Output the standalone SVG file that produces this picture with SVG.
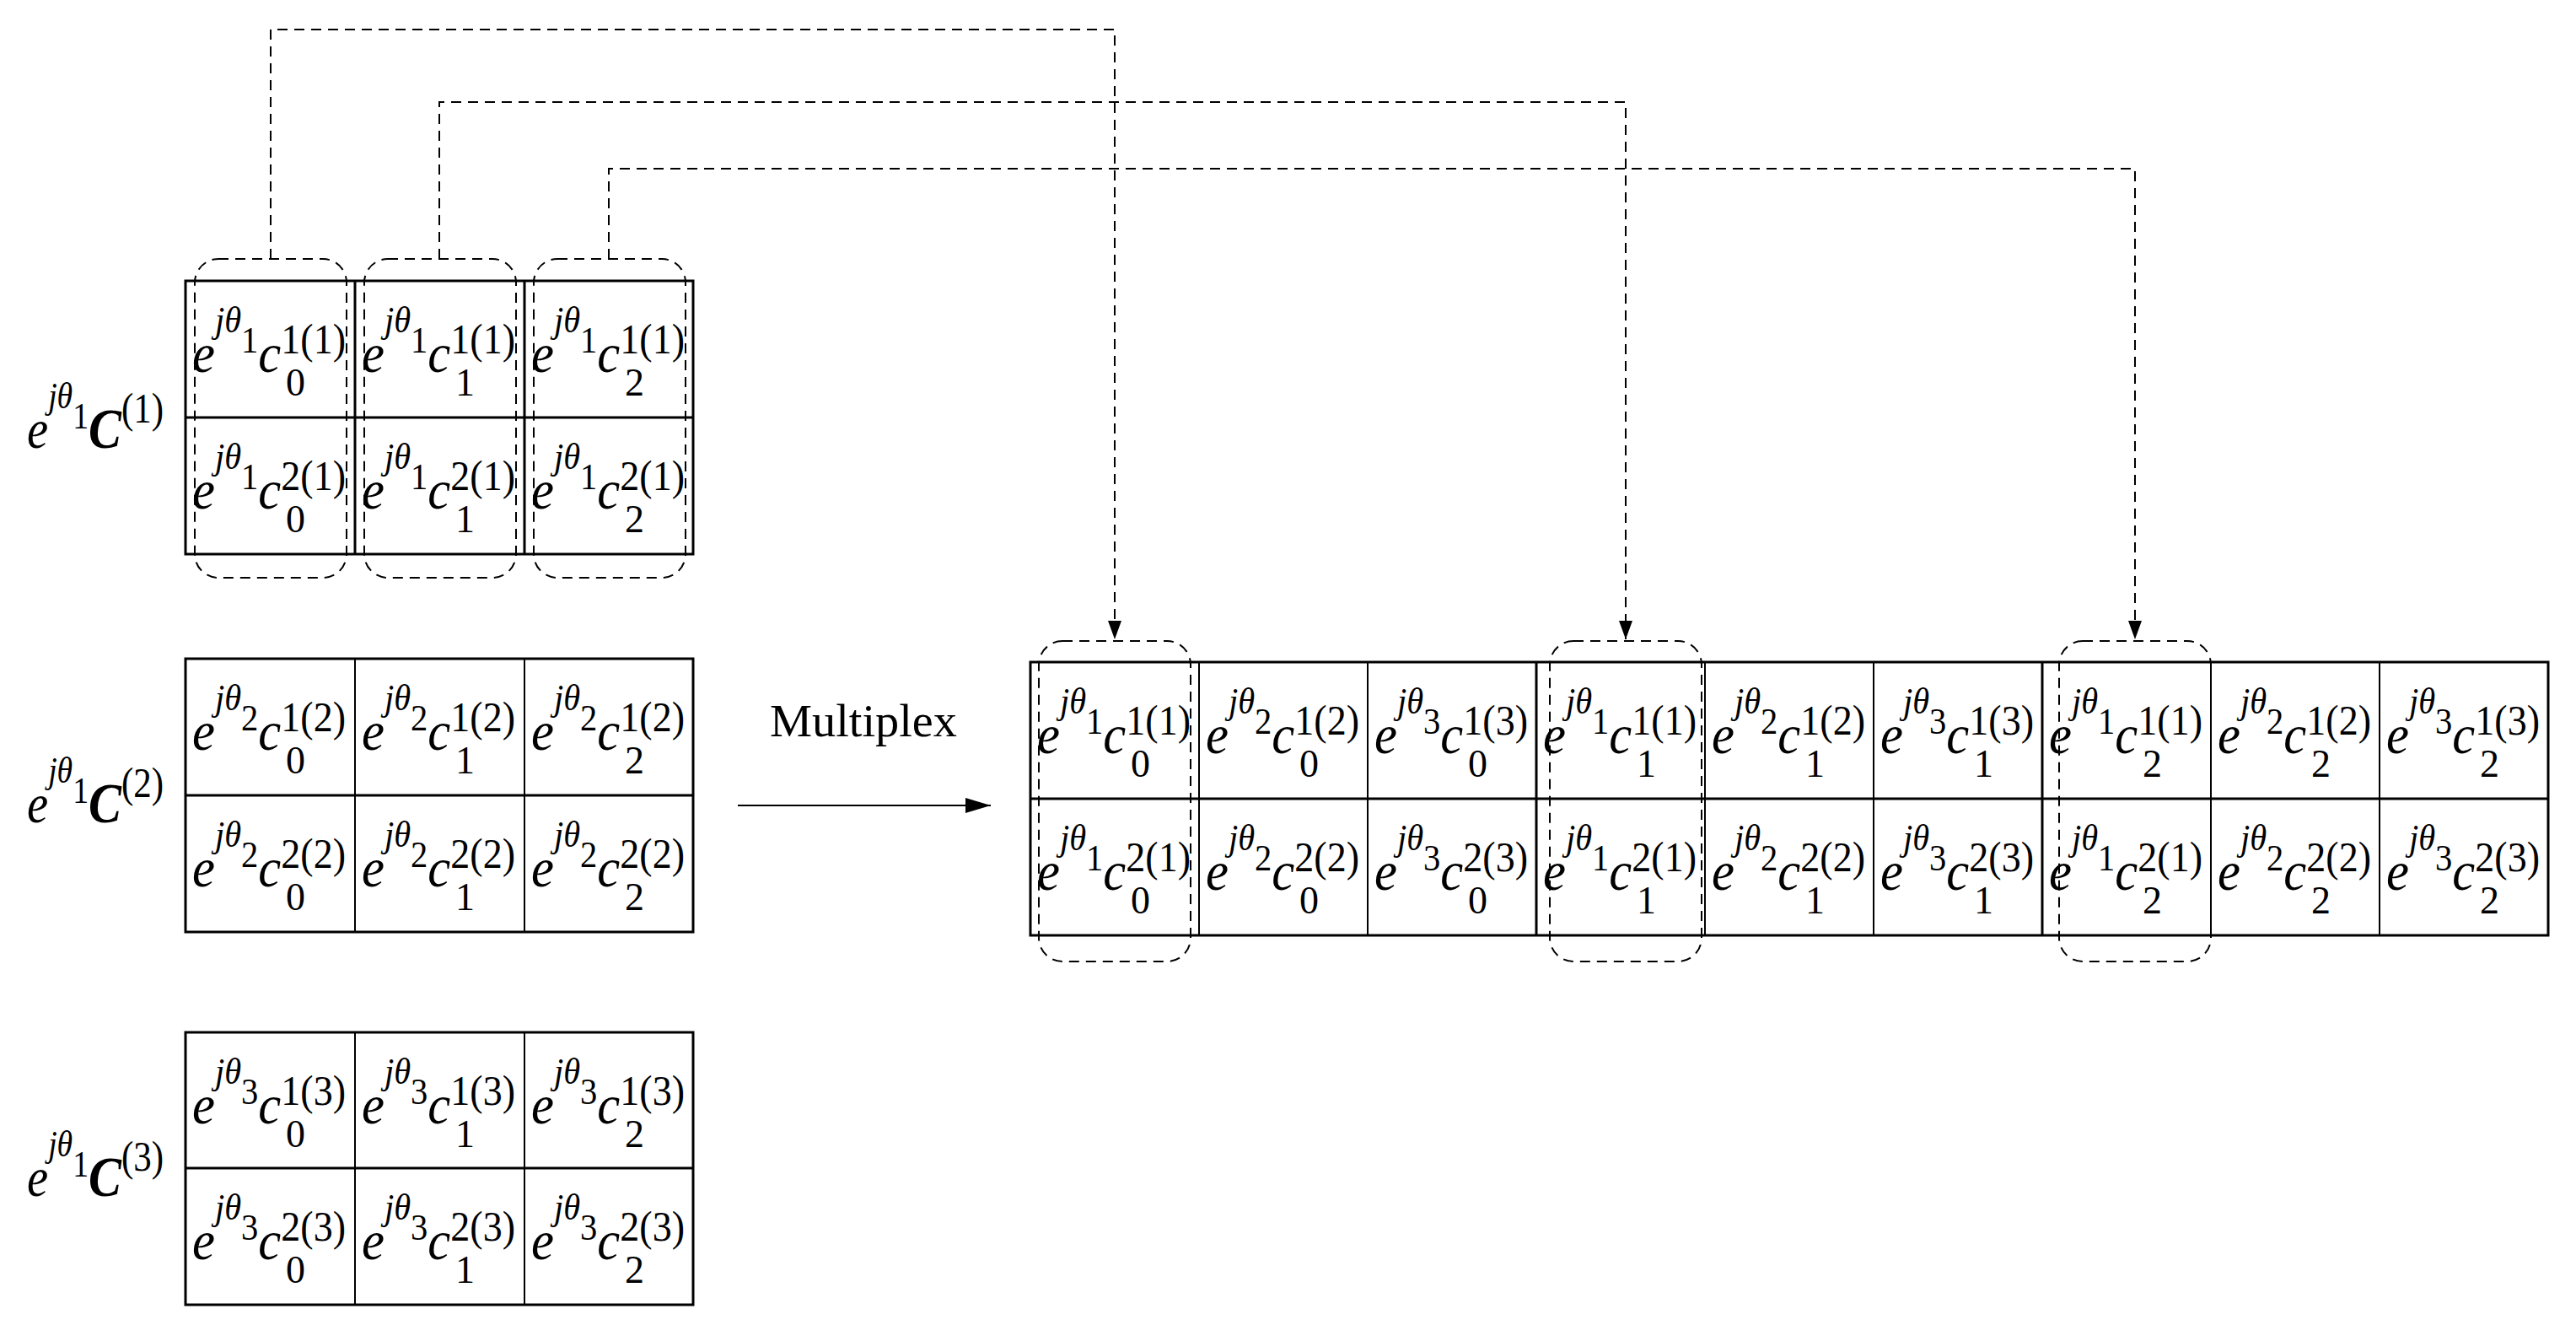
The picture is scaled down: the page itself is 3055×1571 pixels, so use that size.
<svg xmlns="http://www.w3.org/2000/svg" width="3055" height="1571" viewBox="0 0 3055 1571">
<style>
.m{font-family:"Liberation Serif",serif;font-style:italic;font-size:66px;fill:#000}
.s{font-size:44px}
.n{font-style:normal;font-size:44px}
.p{font-style:normal;font-size:50px}
.b{font-family:"Liberation Serif",serif;font-size:46px;fill:#000}
.C{font-weight:bold;font-size:68px}
.g{fill:none;stroke:#000;stroke-width:3}
.d{fill:none;stroke:#000;stroke-width:2}
.dash{fill:none;stroke:#000;stroke-width:2;stroke-dasharray:12 8}
.t{font-family:"Liberation Serif",serif;font-size:55px;fill:#000}
</style>
<defs>
<marker id="ah" viewBox="0 0 22 16" refX="22" refY="8" markerWidth="22" markerHeight="16" markerUnits="userSpaceOnUse" orient="auto"><path d="M0,0 L22,8 L0,16 Z" fill="#000"/></marker>
<marker id="ar" viewBox="0 0 30 18" refX="30" refY="9" markerWidth="30" markerHeight="18" markerUnits="userSpaceOnUse" orient="auto"><path d="M0,0 L30,9 L0,18 Z" fill="#000"/></marker>
</defs>

<g id="labels">
<text class="m" x="32" y="531" textLength="162" lengthAdjust="spacingAndGlyphs">e<tspan class="s" dy="-47">jθ</tspan><tspan class="n" dy="24">1</tspan><tspan class="C" dy="23">C</tspan><tspan class="p" dy="-30">(1)</tspan></text>
<text class="m" x="32" y="975" textLength="162" lengthAdjust="spacingAndGlyphs">e<tspan class="s" dy="-47">jθ</tspan><tspan class="n" dy="24">1</tspan><tspan class="C" dy="23">C</tspan><tspan class="p" dy="-30">(2)</tspan></text>
<text class="m" x="32" y="1418" textLength="162" lengthAdjust="spacingAndGlyphs">e<tspan class="s" dy="-47">jθ</tspan><tspan class="n" dy="24">1</tspan><tspan class="C" dy="23">C</tspan><tspan class="p" dy="-30">(3)</tspan></text>
</g>

<g id="matrix1">
<rect class="g" x="220" y="333" width="602" height="324"/>
<line class="g" x1="220" y1="495" x2="822" y2="495"/>
<line class="g" x1="421" y1="333" x2="421" y2="657"/>
<line class="g" x1="622" y1="333" x2="622" y2="657"/>
<text class="m" x="228" y="441" textLength="182" lengthAdjust="spacingAndGlyphs">e<tspan class="s" dy="-47">jθ</tspan><tspan class="n" dy="24">1</tspan><tspan dy="23">c</tspan><tspan class="p" dy="-22">1(1)</tspan></text><text class="b" x="339" y="469">0</text>
<text class="m" x="429" y="441" textLength="182" lengthAdjust="spacingAndGlyphs">e<tspan class="s" dy="-47">jθ</tspan><tspan class="n" dy="24">1</tspan><tspan dy="23">c</tspan><tspan class="p" dy="-22">1(1)</tspan></text><text class="b" x="540" y="469">1</text>
<text class="m" x="630" y="441" textLength="182" lengthAdjust="spacingAndGlyphs">e<tspan class="s" dy="-47">jθ</tspan><tspan class="n" dy="24">1</tspan><tspan dy="23">c</tspan><tspan class="p" dy="-22">1(1)</tspan></text><text class="b" x="741" y="469">2</text>
<text class="m" x="228" y="603" textLength="182" lengthAdjust="spacingAndGlyphs">e<tspan class="s" dy="-47">jθ</tspan><tspan class="n" dy="24">1</tspan><tspan dy="23">c</tspan><tspan class="p" dy="-22">2(1)</tspan></text><text class="b" x="339" y="631">0</text>
<text class="m" x="429" y="603" textLength="182" lengthAdjust="spacingAndGlyphs">e<tspan class="s" dy="-47">jθ</tspan><tspan class="n" dy="24">1</tspan><tspan dy="23">c</tspan><tspan class="p" dy="-22">2(1)</tspan></text><text class="b" x="540" y="631">1</text>
<text class="m" x="630" y="603" textLength="182" lengthAdjust="spacingAndGlyphs">e<tspan class="s" dy="-47">jθ</tspan><tspan class="n" dy="24">1</tspan><tspan dy="23">c</tspan><tspan class="p" dy="-22">2(1)</tspan></text><text class="b" x="741" y="631">2</text>
<rect class="dash" x="231" y="307" width="180" height="378" rx="28"/>
<rect class="dash" x="432" y="307" width="180" height="378" rx="28"/>
<rect class="dash" x="633" y="307" width="180" height="378" rx="28"/>
</g>

<g id="matrix2">
<rect class="g" x="220" y="781" width="602" height="324"/>
<line class="g" x1="220" y1="943" x2="822" y2="943"/>
<line class="d" x1="421" y1="781" x2="421" y2="1105"/>
<line class="d" x1="622" y1="781" x2="622" y2="1105"/>
<text class="m" x="228" y="889" textLength="182" lengthAdjust="spacingAndGlyphs">e<tspan class="s" dy="-47">jθ</tspan><tspan class="n" dy="24">2</tspan><tspan dy="23">c</tspan><tspan class="p" dy="-22">1(2)</tspan></text><text class="b" x="339" y="917">0</text>
<text class="m" x="429" y="889" textLength="182" lengthAdjust="spacingAndGlyphs">e<tspan class="s" dy="-47">jθ</tspan><tspan class="n" dy="24">2</tspan><tspan dy="23">c</tspan><tspan class="p" dy="-22">1(2)</tspan></text><text class="b" x="540" y="917">1</text>
<text class="m" x="630" y="889" textLength="182" lengthAdjust="spacingAndGlyphs">e<tspan class="s" dy="-47">jθ</tspan><tspan class="n" dy="24">2</tspan><tspan dy="23">c</tspan><tspan class="p" dy="-22">1(2)</tspan></text><text class="b" x="741" y="917">2</text>
<text class="m" x="228" y="1051" textLength="182" lengthAdjust="spacingAndGlyphs">e<tspan class="s" dy="-47">jθ</tspan><tspan class="n" dy="24">2</tspan><tspan dy="23">c</tspan><tspan class="p" dy="-22">2(2)</tspan></text><text class="b" x="339" y="1079">0</text>
<text class="m" x="429" y="1051" textLength="182" lengthAdjust="spacingAndGlyphs">e<tspan class="s" dy="-47">jθ</tspan><tspan class="n" dy="24">2</tspan><tspan dy="23">c</tspan><tspan class="p" dy="-22">2(2)</tspan></text><text class="b" x="540" y="1079">1</text>
<text class="m" x="630" y="1051" textLength="182" lengthAdjust="spacingAndGlyphs">e<tspan class="s" dy="-47">jθ</tspan><tspan class="n" dy="24">2</tspan><tspan dy="23">c</tspan><tspan class="p" dy="-22">2(2)</tspan></text><text class="b" x="741" y="1079">2</text>
</g>

<g id="matrix3">
<rect class="g" x="220" y="1224" width="602" height="323"/>
<line class="g" x1="220" y1="1385" x2="822" y2="1385"/>
<line class="d" x1="421" y1="1224" x2="421" y2="1547"/>
<line class="d" x1="622" y1="1224" x2="622" y2="1547"/>
<text class="m" x="228" y="1332" textLength="182" lengthAdjust="spacingAndGlyphs">e<tspan class="s" dy="-47">jθ</tspan><tspan class="n" dy="24">3</tspan><tspan dy="23">c</tspan><tspan class="p" dy="-22">1(3)</tspan></text><text class="b" x="339" y="1360">0</text>
<text class="m" x="429" y="1332" textLength="182" lengthAdjust="spacingAndGlyphs">e<tspan class="s" dy="-47">jθ</tspan><tspan class="n" dy="24">3</tspan><tspan dy="23">c</tspan><tspan class="p" dy="-22">1(3)</tspan></text><text class="b" x="540" y="1360">1</text>
<text class="m" x="630" y="1332" textLength="182" lengthAdjust="spacingAndGlyphs">e<tspan class="s" dy="-47">jθ</tspan><tspan class="n" dy="24">3</tspan><tspan dy="23">c</tspan><tspan class="p" dy="-22">1(3)</tspan></text><text class="b" x="741" y="1360">2</text>
<text class="m" x="228" y="1493" textLength="182" lengthAdjust="spacingAndGlyphs">e<tspan class="s" dy="-47">jθ</tspan><tspan class="n" dy="24">3</tspan><tspan dy="23">c</tspan><tspan class="p" dy="-22">2(3)</tspan></text><text class="b" x="339" y="1521">0</text>
<text class="m" x="429" y="1493" textLength="182" lengthAdjust="spacingAndGlyphs">e<tspan class="s" dy="-47">jθ</tspan><tspan class="n" dy="24">3</tspan><tspan dy="23">c</tspan><tspan class="p" dy="-22">2(3)</tspan></text><text class="b" x="540" y="1521">1</text>
<text class="m" x="630" y="1493" textLength="182" lengthAdjust="spacingAndGlyphs">e<tspan class="s" dy="-47">jθ</tspan><tspan class="n" dy="24">3</tspan><tspan dy="23">c</tspan><tspan class="p" dy="-22">2(3)</tspan></text><text class="b" x="741" y="1521">2</text>
</g>

<g id="multiplex">
<text class="t" x="913" y="873" textLength="222" lengthAdjust="spacingAndGlyphs">Multiplex</text>
<line class="d" x1="875" y1="955" x2="1175" y2="955" marker-end="url(#ar)"/>
</g>

<g id="combined">
<rect class="g" x="1222" y="785" width="1800" height="324"/>
<line class="g" x1="1222" y1="947" x2="3022" y2="947"/>
<line class="d" x1="1422" y1="785" x2="1422" y2="1109"/>
<line class="d" x1="1622" y1="785" x2="1622" y2="1109"/>
<line class="g" x1="1822" y1="785" x2="1822" y2="1109"/>
<line class="d" x1="2022" y1="785" x2="2022" y2="1109"/>
<line class="d" x1="2222" y1="785" x2="2222" y2="1109"/>
<line class="g" x1="2422" y1="785" x2="2422" y2="1109"/>
<line class="d" x1="2622" y1="785" x2="2622" y2="1109"/>
<line class="d" x1="2822" y1="785" x2="2822" y2="1109"/>

<text class="m" x="1230" y="893" textLength="182" lengthAdjust="spacingAndGlyphs">e<tspan class="s" dy="-47">jθ</tspan><tspan class="n" dy="24">1</tspan><tspan dy="23">c</tspan><tspan class="p" dy="-22">1(1)</tspan></text><text class="b" x="1341" y="921">0</text>
<text class="m" x="1430" y="893" textLength="182" lengthAdjust="spacingAndGlyphs">e<tspan class="s" dy="-47">jθ</tspan><tspan class="n" dy="24">2</tspan><tspan dy="23">c</tspan><tspan class="p" dy="-22">1(2)</tspan></text><text class="b" x="1541" y="921">0</text>
<text class="m" x="1630" y="893" textLength="182" lengthAdjust="spacingAndGlyphs">e<tspan class="s" dy="-47">jθ</tspan><tspan class="n" dy="24">3</tspan><tspan dy="23">c</tspan><tspan class="p" dy="-22">1(3)</tspan></text><text class="b" x="1741" y="921">0</text>
<text class="m" x="1830" y="893" textLength="182" lengthAdjust="spacingAndGlyphs">e<tspan class="s" dy="-47">jθ</tspan><tspan class="n" dy="24">1</tspan><tspan dy="23">c</tspan><tspan class="p" dy="-22">1(1)</tspan></text><text class="b" x="1941" y="921">1</text>
<text class="m" x="2030" y="893" textLength="182" lengthAdjust="spacingAndGlyphs">e<tspan class="s" dy="-47">jθ</tspan><tspan class="n" dy="24">2</tspan><tspan dy="23">c</tspan><tspan class="p" dy="-22">1(2)</tspan></text><text class="b" x="2141" y="921">1</text>
<text class="m" x="2230" y="893" textLength="182" lengthAdjust="spacingAndGlyphs">e<tspan class="s" dy="-47">jθ</tspan><tspan class="n" dy="24">3</tspan><tspan dy="23">c</tspan><tspan class="p" dy="-22">1(3)</tspan></text><text class="b" x="2341" y="921">1</text>
<text class="m" x="2430" y="893" textLength="182" lengthAdjust="spacingAndGlyphs">e<tspan class="s" dy="-47">jθ</tspan><tspan class="n" dy="24">1</tspan><tspan dy="23">c</tspan><tspan class="p" dy="-22">1(1)</tspan></text><text class="b" x="2541" y="921">2</text>
<text class="m" x="2630" y="893" textLength="182" lengthAdjust="spacingAndGlyphs">e<tspan class="s" dy="-47">jθ</tspan><tspan class="n" dy="24">2</tspan><tspan dy="23">c</tspan><tspan class="p" dy="-22">1(2)</tspan></text><text class="b" x="2741" y="921">2</text>
<text class="m" x="2830" y="893" textLength="182" lengthAdjust="spacingAndGlyphs">e<tspan class="s" dy="-47">jθ</tspan><tspan class="n" dy="24">3</tspan><tspan dy="23">c</tspan><tspan class="p" dy="-22">1(3)</tspan></text><text class="b" x="2941" y="921">2</text>

<text class="m" x="1230" y="1055" textLength="182" lengthAdjust="spacingAndGlyphs">e<tspan class="s" dy="-47">jθ</tspan><tspan class="n" dy="24">1</tspan><tspan dy="23">c</tspan><tspan class="p" dy="-22">2(1)</tspan></text><text class="b" x="1341" y="1083">0</text>
<text class="m" x="1430" y="1055" textLength="182" lengthAdjust="spacingAndGlyphs">e<tspan class="s" dy="-47">jθ</tspan><tspan class="n" dy="24">2</tspan><tspan dy="23">c</tspan><tspan class="p" dy="-22">2(2)</tspan></text><text class="b" x="1541" y="1083">0</text>
<text class="m" x="1630" y="1055" textLength="182" lengthAdjust="spacingAndGlyphs">e<tspan class="s" dy="-47">jθ</tspan><tspan class="n" dy="24">3</tspan><tspan dy="23">c</tspan><tspan class="p" dy="-22">2(3)</tspan></text><text class="b" x="1741" y="1083">0</text>
<text class="m" x="1830" y="1055" textLength="182" lengthAdjust="spacingAndGlyphs">e<tspan class="s" dy="-47">jθ</tspan><tspan class="n" dy="24">1</tspan><tspan dy="23">c</tspan><tspan class="p" dy="-22">2(1)</tspan></text><text class="b" x="1941" y="1083">1</text>
<text class="m" x="2030" y="1055" textLength="182" lengthAdjust="spacingAndGlyphs">e<tspan class="s" dy="-47">jθ</tspan><tspan class="n" dy="24">2</tspan><tspan dy="23">c</tspan><tspan class="p" dy="-22">2(2)</tspan></text><text class="b" x="2141" y="1083">1</text>
<text class="m" x="2230" y="1055" textLength="182" lengthAdjust="spacingAndGlyphs">e<tspan class="s" dy="-47">jθ</tspan><tspan class="n" dy="24">3</tspan><tspan dy="23">c</tspan><tspan class="p" dy="-22">2(3)</tspan></text><text class="b" x="2341" y="1083">1</text>
<text class="m" x="2430" y="1055" textLength="182" lengthAdjust="spacingAndGlyphs">e<tspan class="s" dy="-47">jθ</tspan><tspan class="n" dy="24">1</tspan><tspan dy="23">c</tspan><tspan class="p" dy="-22">2(1)</tspan></text><text class="b" x="2541" y="1083">2</text>
<text class="m" x="2630" y="1055" textLength="182" lengthAdjust="spacingAndGlyphs">e<tspan class="s" dy="-47">jθ</tspan><tspan class="n" dy="24">2</tspan><tspan dy="23">c</tspan><tspan class="p" dy="-22">2(2)</tspan></text><text class="b" x="2741" y="1083">2</text>
<text class="m" x="2830" y="1055" textLength="182" lengthAdjust="spacingAndGlyphs">e<tspan class="s" dy="-47">jθ</tspan><tspan class="n" dy="24">3</tspan><tspan dy="23">c</tspan><tspan class="p" dy="-22">2(3)</tspan></text><text class="b" x="2941" y="1083">2</text>

<rect class="dash" x="1232" y="760" width="180" height="380" rx="28"/>
<rect class="dash" x="1838" y="760" width="180" height="380" rx="28"/>
<rect class="dash" x="2442" y="760" width="180" height="380" rx="28"/>
</g>

<g id="connectors">
<path class="dash" d="M321 307 V35 H1322 V758" marker-end="url(#ah)"/>
<path class="dash" d="M521 307 V121 H1928 V758" marker-end="url(#ah)"/>
<path class="dash" d="M722 307 V200 H2532 V758" marker-end="url(#ah)"/>
</g>
</svg>
